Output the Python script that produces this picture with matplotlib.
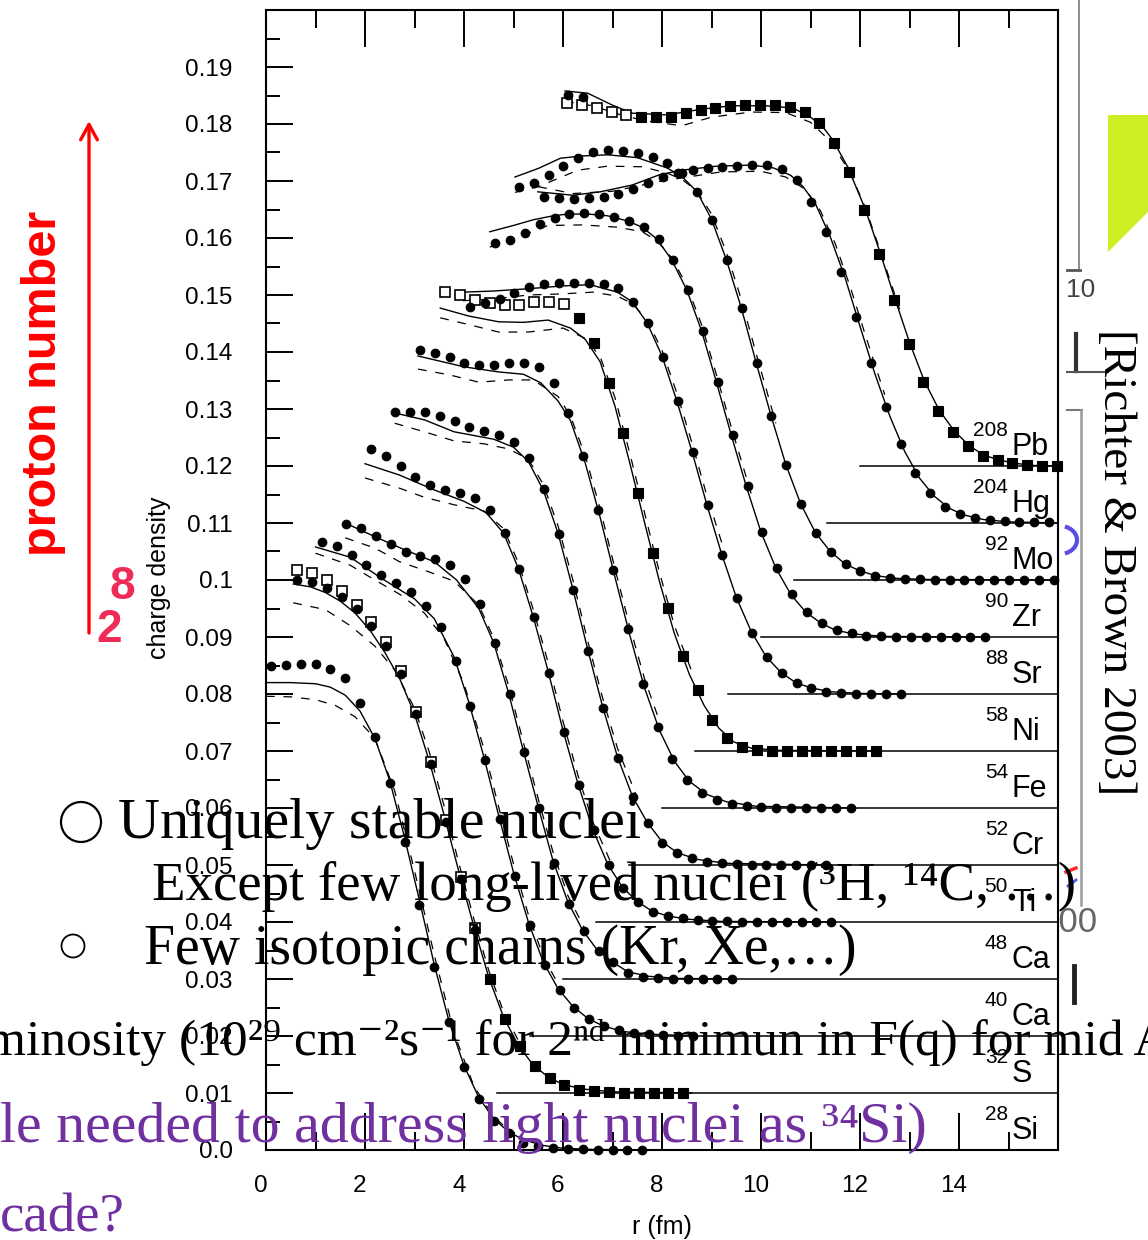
import numpy as np
import matplotlib
matplotlib.use("Agg")
import matplotlib.pyplot as plt
from matplotlib import transforms
from matplotlib.patches import Polygon, Circle, Arc
from matplotlib.lines import Line2D

plt.rcParams["font.family"] = "Liberation Sans"

W, H = 1148, 1240
STEP = 0.3  # fm between measured points
SERIF = ["Liberation Serif", "DejaVu Serif", "DejaVu Sans"]

mass = ["28", "32", "40", "48", "50", "52", "54", "58", "88", "90", "92", "204", "208"]
element = ["Si", "S", "Ca", "Ca", "Ti", "Cr", "Fe", "Ni", "Sr", "Zr", "Mo", "Hg", "Pb"]
shift = [0.00, 0.01, 0.02, 0.03, 0.04, 0.05, 0.06, 0.07, 0.08, 0.09, 0.10, 0.11, 0.12]
base_from = [None, 4.67, 5.33, 6.00, 6.67, 7.33, 8.00, 8.67, 9.33, 10.00, 10.67, 11.33, 12.00]

y_ticks = [0.00, 0.01, 0.02, 0.03, 0.04, 0.05, 0.06, 0.07, 0.08, 0.09,
           0.10, 0.11, 0.12, 0.13, 0.14, 0.15, 0.16, 0.17, 0.18, 0.19]
y_labels = ["0.0", "0.01", "0.02", "0.03", "0.04", "0.05", "0.06", "0.07", "0.08", "0.09",
            "0.1", "0.11", "0.12", "0.13", "0.14", "0.15", "0.16", "0.17", "0.18", "0.19"]
x_ticks = [0, 2, 4, 6, 8, 10, 12, 14, 16]
x_labels = ["0", "2", "4", "6", "8", "10", "12", "14", ""]

# ---- 28Si
si28_r = [0, 0.5, 1.0, 1.3, 1.6, 1.9, 2.2, 2.5, 2.8, 3.1, 3.4, 3.7, 4.0, 4.3, 4.6, 4.9, 5.2, 5.6, 6.0, 6.6, 7.6]
si28_fit = [0.0820, 0.0820, 0.0818, 0.0812, 0.0798, 0.0770, 0.0722, 0.0648, 0.0548, 0.0438, 0.0325,
            0.0225, 0.0148, 0.0092, 0.0055, 0.0032, 0.0018, 0.0008, 0.0003, 0.0001, 0.0]
si28_alt_r = [0, 0.5, 1.0, 1.4, 1.8, 2.2, 2.6, 3.0, 3.4, 3.8, 4.2, 4.6, 5.0]
si28_alt = [0.0796, 0.0795, 0.0790, 0.0780, 0.0760, 0.0722, 0.0630, 0.0490, 0.0342, 0.0205, 0.0112, 0.0058, 0.0028]
si28_exp = [0.0849, 0.0851, 0.0853, 0.0853, 0.0844, 0.0828, 0.0784, 0.0725, 0.0644, 0.0540, 0.0430, 0.0321,
            0.0225, 0.0146, 0.0089, 0.0051, 0.0030, 0.0012, 0.0007, 0.0004, 0.0002, 0.0001, 0, 0, 0, 0]

# ---- 32S
s32_r = [0.55, 0.9, 1.2, 1.5, 1.8, 2.1, 2.4, 2.7, 3.0, 3.3, 3.6, 3.9, 4.2, 4.5, 4.8, 5.1, 5.4, 5.7, 6.0, 6.4, 7.0, 8.6]
s32_fit = [0.0893, 0.0888, 0.0878, 0.0863, 0.0842, 0.0812, 0.0773, 0.0727, 0.0665, 0.0582, 0.0487,
           0.0387, 0.0292, 0.0203, 0.0133, 0.0083, 0.0049, 0.0028, 0.0015, 0.0007, 0.0002, 0.0]
s32_alt_r = [0.55, 1.2, 1.7, 2.2, 2.6, 3.0, 3.3, 3.6, 3.9, 4.2, 4.5, 4.8, 5.2]
s32_alt = [0.0860, 0.0848, 0.0820, 0.0784, 0.0742, 0.0675, 0.0598, 0.0503, 0.0402, 0.0305, 0.0215, 0.0142, 0.0075]
s32_open = [0.0918, 0.0912, 0.0900, 0.0881, 0.0856, 0.0826, 0.0791, 0.0740, 0.0668, 0.0581, 0.0479, 0.0379, 0.0289]
s32_exp = [0.0900, 0.0896, 0.0886, 0.0870, 0.0849, 0.0820, 0.0785, 0.0735, 0.0665, 0.0578, 0.0476, 0.0376, 0.0286]
s32_tail = [0.0200, 0.0130, 0.0082, 0.0048, 0.0027, 0.0014, 0.0006, 0.0003, 0.0001, 0, 0, 0, 0, 0]

# ---- 40Ca
ca40_r = [1.0, 1.7, 2.35, 3.0, 3.4, 3.8, 4.1, 4.4, 4.7, 5.0, 5.3, 5.6, 5.9, 6.2, 6.5, 6.8, 7.2, 7.8, 8.7]
ca40_fit = [0.0858, 0.0840, 0.0802, 0.0767, 0.0732, 0.0665, 0.0585, 0.0490, 0.0387, 0.0287, 0.0200,
            0.0130, 0.0083, 0.0052, 0.0031, 0.0018, 0.0008, 0.0003, 0.0]
ca40_alt_r = [1.0, 1.7, 2.2, 2.7, 3.2, 3.6, 4.0, 4.4, 4.7, 5.0, 5.3, 5.6, 6.0]
ca40_alt = [0.0847, 0.0826, 0.0800, 0.0775, 0.0742, 0.0697, 0.0618, 0.0505, 0.0402, 0.0302, 0.0213, 0.0140, 0.0075]
ca40_exp = [0.0867, 0.0860, 0.0844, 0.0826, 0.0809, 0.0795, 0.0779, 0.0754, 0.0718, 0.0658, 0.0579, 0.0484,
            0.0381, 0.0281, 0.0195, 0.0125, 0.0080, 0.0050, 0.0030, 0.0017, 0.0010, 0.0005, 0.0003, 0.0001, 0, 0]

# ---- 48Ca
ca48_r = [1.6, 2.2, 2.8, 3.4, 3.85, 4.3, 4.6, 4.9, 5.2, 5.5, 5.8, 6.1, 6.4, 6.7, 7.0, 7.3, 7.7, 8.3, 9.5]
ca48_fit = [0.0800, 0.0776, 0.0753, 0.0732, 0.0700, 0.0650, 0.0590, 0.0502, 0.0400, 0.0302, 0.0207,
            0.0135, 0.0085, 0.0050, 0.0030, 0.0013, 0.0005, 0.0001, 0.0]
ca48_alt_r = [1.6, 2.2, 2.7, 3.3, 3.8, 4.3, 4.6, 4.9, 5.2, 5.5, 5.8, 6.1, 6.5]
ca48_alt = [0.0774, 0.0756, 0.0732, 0.0714, 0.0698, 0.0656, 0.0598, 0.0515, 0.0415, 0.0316, 0.0222, 0.0146, 0.0078]
ca48_exp = [0.0798, 0.0791, 0.0777, 0.0763, 0.0749, 0.0742, 0.0737, 0.0726, 0.0702, 0.0658, 0.0589, 0.0500,
            0.0398, 0.0300, 0.0204, 0.0132, 0.0085, 0.0050, 0.0030, 0.0011, 0.0004, 0.0001, 0, 0, 0, 0, 0]

# ---- 50Ti
ti50_r = [2.0, 2.7, 3.4, 4.0, 4.45, 4.8, 5.1, 5.4, 5.7, 6.0, 6.3, 6.6, 6.9, 7.2, 7.5, 7.8, 8.1, 8.5, 9.2, 11.4]
ti50_fit = [0.0804, 0.0784, 0.0758, 0.0738, 0.0718, 0.0682, 0.0620, 0.0535, 0.0440, 0.0336, 0.0243,
            0.0163, 0.0102, 0.0061, 0.0036, 0.0019, 0.0011, 0.0005, 0.0001, 0.0]
ti50_alt_r = [2.0, 2.7, 3.2, 3.8, 4.4, 4.8, 5.1, 5.4, 5.7, 6.0, 6.3, 6.6, 7.0]
ti50_alt = [0.0779, 0.0761, 0.0745, 0.0732, 0.0721, 0.0690, 0.0630, 0.0548, 0.0455, 0.0352, 0.0258, 0.0176, 0.0098]
ti50_exp = [0.0830, 0.0818, 0.0800, 0.0781, 0.0767, 0.0758, 0.0753, 0.0744, 0.0723, 0.0682, 0.0619, 0.0535,
            0.0437, 0.0333, 0.0240, 0.0161, 0.0100, 0.0060, 0.0035, 0.0018, 0.0011, 0.0007, 0.0004, 0.0002,
            0.0001, 0, 0, 0, 0, 0, 0, 0]

# ---- 52Cr
cr52_r = [2.6, 3.2, 3.8, 4.6, 5.0, 5.3, 5.6, 5.9, 6.2, 6.5, 6.8, 7.1, 7.4, 7.7, 8.0, 8.3, 8.7, 9.3, 11.3]
cr52_fit = [0.0793, 0.0781, 0.0760, 0.0747, 0.0733, 0.0708, 0.0658, 0.0582, 0.0484, 0.0378, 0.0278,
            0.0190, 0.0121, 0.0075, 0.0041, 0.0022, 0.0010, 0.0003, 0.0]
cr52_alt_r = [2.6, 3.2, 3.8, 4.4, 4.9, 5.3, 5.6, 5.9, 6.2, 6.5, 6.8, 7.1, 7.5]
cr52_alt = [0.0775, 0.0760, 0.0744, 0.0739, 0.0730, 0.0712, 0.0668, 0.0595, 0.0500, 0.0393, 0.0293, 0.0205, 0.0118]
cr52_exp = [0.0795, 0.0795, 0.0795, 0.0788, 0.0779, 0.0768, 0.0761, 0.0754, 0.0742, 0.0714, 0.0660, 0.0581,
            0.0482, 0.0375, 0.0275, 0.0188, 0.0119, 0.0074, 0.0039, 0.0021, 0.0012, 0.0006, 0.0003, 0.0001,
            0, 0, 0, 0, 0, 0]

# ---- 54Fe
fe54_r = [3.07, 4.0, 4.7, 5.2, 5.55, 5.9, 6.15, 6.45, 6.75, 7.05, 7.35, 7.65, 7.95, 8.25, 8.55, 8.9, 9.3, 9.9, 11.9]
fe54_fit = [0.0793, 0.0774, 0.0765, 0.0761, 0.0746, 0.0714, 0.0680, 0.0605, 0.0510, 0.0405, 0.0303,
            0.0210, 0.0136, 0.0082, 0.0047, 0.0024, 0.0011, 0.0003, 0.0]
fe54_alt_r = [3.07, 3.7, 4.3, 4.9, 5.4, 5.9, 6.15, 6.45, 6.75, 7.05, 7.35, 7.65, 8.0]
fe54_alt = [0.0770, 0.0760, 0.0747, 0.0751, 0.0751, 0.0722, 0.0688, 0.0618, 0.0525, 0.0420, 0.0318, 0.0226, 0.0140]
fe54_exp = [0.0804, 0.0798, 0.0791, 0.0781, 0.0777, 0.0777, 0.0781, 0.0781, 0.0774, 0.0746, 0.0693, 0.0618,
            0.0523, 0.0418, 0.0314, 0.0218, 0.0142, 0.0086, 0.0049, 0.0027, 0.0014, 0.0007, 0.0003, 0.0001,
            0, 0, 0, 0, 0, 0]

# ---- 58Ni
ni58_r = [3.52, 4.1, 4.7, 5.2, 5.7, 6.15, 6.45, 6.75, 7.05, 7.35, 7.65, 7.95, 8.25, 8.55, 8.85, 9.15, 9.45,
          9.8, 10.4, 12.4]
ni58_fit = [0.0777, 0.0763, 0.0753, 0.0752, 0.0756, 0.0742, 0.0722, 0.0683, 0.0605, 0.0505, 0.0400,
            0.0297, 0.0206, 0.0135, 0.0080, 0.0040, 0.0016, 0.0005, 0.0001, 0.0]
ni58_alt_r = [3.52, 4.1, 4.7, 5.3, 6.0, 6.45, 6.75, 7.05, 7.35, 7.65, 7.95, 8.25, 8.6]
ni58_alt = [0.0760, 0.0748, 0.0735, 0.0735, 0.0742, 0.0724, 0.0692, 0.0620, 0.0522, 0.0417, 0.0313, 0.0220, 0.0140]
ni58_open = [0.0805, 0.0800, 0.0791, 0.0786, 0.0782, 0.0782, 0.0788, 0.0788, 0.0784]
ni58_exp = [0.0760, 0.0716, 0.0646, 0.0558, 0.0453, 0.0347, 0.0251, 0.0167, 0.0107, 0.0054, 0.0023,
            0.0007, 0.0002, 0, 0, 0, 0, 0, 0, 0, 0]

# ---- 88Sr
sr88_r = [3.98, 4.6, 5.3, 6.0, 6.55, 7.1, 7.4, 7.7, 8.0, 8.3, 8.6, 8.9, 9.2, 9.5, 9.8, 10.1, 10.4, 10.7,
          11.0, 11.4, 12.0, 12.8]
sr88_fit = [0.0705, 0.0707, 0.0711, 0.0716, 0.0718, 0.0705, 0.0688, 0.0651, 0.0593, 0.0514, 0.0427,
            0.0334, 0.0247, 0.0170, 0.0110, 0.0066, 0.0038, 0.0020, 0.0011, 0.0004, 0.0001, 0.0]
sr88_alt_r = [3.98, 4.6, 5.3, 6.0, 6.6, 7.1, 7.4, 7.7, 8.0, 8.3, 8.6, 8.9, 9.3]
sr88_alt = [0.0690, 0.0693, 0.0700, 0.0702, 0.0705, 0.0698, 0.0685, 0.0656, 0.0603, 0.0528, 0.0442, 0.0350, 0.0240]
sr88_exp = [0.0679, 0.0686, 0.0693, 0.0704, 0.0714, 0.0719, 0.0721, 0.0721, 0.0721, 0.0719, 0.0712, 0.0688,
            0.0651, 0.0591, 0.0514, 0.0425, 0.0332, 0.0244, 0.0168, 0.0107, 0.0065, 0.0037, 0.0019, 0.0011,
            0.0004, 0.0002, 0, 0, 0, 0]

# ---- 90Zr
zr90_r = [4.52, 5.0, 5.4, 5.8, 6.1, 6.5, 6.9, 7.3, 7.6, 7.9, 8.2, 8.5, 8.8, 9.1, 9.4, 9.7, 10.0, 10.3, 10.6,
          10.9, 11.2, 11.5, 11.9, 12.5, 14.5]
zr90_fit = [0.0711, 0.0722, 0.0732, 0.0739, 0.0742, 0.0742, 0.0739, 0.0730, 0.0719, 0.0698, 0.0661,
            0.0609, 0.0537, 0.0447, 0.0354, 0.0265, 0.0184, 0.0121, 0.0075, 0.0044, 0.0025, 0.0012,
            0.0005, 0.0001, 0.0]
zr90_alt_r = [4.52, 5.1, 5.7, 6.4, 7.1, 7.6, 7.9, 8.2, 8.5, 8.8, 9.1, 9.4, 9.8]
zr90_alt = [0.0684, 0.0702, 0.0722, 0.0723, 0.0719, 0.0711, 0.0695, 0.0665, 0.0617, 0.0548, 0.0460, 0.0368, 0.0252]
zr90_exp = [0.0691, 0.0696, 0.0709, 0.0725, 0.0735, 0.0742, 0.0744, 0.0742, 0.0737, 0.0730, 0.0719, 0.0698,
            0.0661, 0.0609, 0.0537, 0.0447, 0.0354, 0.0265, 0.0184, 0.0121, 0.0075, 0.0044, 0.0025, 0.0012,
            0.0007, 0.0002, 0.0001, 0, 0, 0, 0, 0, 0, 0]

# ---- 92Mo
mo92_r = [5.03, 5.5, 5.95, 6.4, 6.9, 7.5, 8.1, 8.4, 8.7, 9.0, 9.3, 9.6, 9.9, 10.2, 10.5, 10.8, 11.1, 11.4,
          11.7, 12.0, 12.3, 12.7, 13.3, 16.0]
mo92_fit = [0.0707, 0.0722, 0.0740, 0.0744, 0.0746, 0.0741, 0.0723, 0.0708, 0.0682, 0.0633, 0.0562,
            0.0478, 0.0382, 0.0289, 0.0203, 0.0134, 0.0083, 0.0050, 0.0028, 0.0016, 0.0008, 0.0003,
            0.0001, 0.0]
mo92_alt_r = [5.03, 5.5, 6.3, 6.9, 7.6, 8.1, 8.4, 8.7, 9.0, 9.3, 9.6, 9.9, 10.3]
mo92_alt = [0.0680, 0.0690, 0.0719, 0.0726, 0.0725, 0.0714, 0.0703, 0.0683, 0.0642, 0.0575, 0.0493, 0.0398, 0.0275]
mo92_exp = [0.0689, 0.0696, 0.0711, 0.0726, 0.0740, 0.0751, 0.0754, 0.0753, 0.0749, 0.0742, 0.0732, 0.0714,
            0.0681, 0.0632, 0.0561, 0.0477, 0.0381, 0.0288, 0.0202, 0.0133, 0.0082, 0.0049, 0.0028, 0.0016,
            0.0007, 0.0004, 0.0002, 0.0001, 0, 0, 0, 0, 0, 0, 0, 0, 0]

# ---- 204Hg
hg204_r = [5.49, 6.2, 6.75, 7.4, 7.95, 8.4, 9.1, 9.8, 10.25, 10.6, 10.85, 11.1, 11.4, 11.7, 12.0, 12.3,
           12.6, 12.9, 13.2, 13.5, 13.8, 14.1, 14.5, 15.0, 16.0]
hg204_fit = [0.0581, 0.0575, 0.0581, 0.0593, 0.0611, 0.0619, 0.0626, 0.0628, 0.0623, 0.0610, 0.0590,
             0.0560, 0.0502, 0.0430, 0.0345, 0.0262, 0.0188, 0.0126, 0.0079, 0.0047, 0.0026, 0.0014,
             0.0006, 0.0002, 0.0]
hg204_alt_r = [5.5, 6.2, 7.0, 8.0, 9.2, 10.0, 10.5, 10.9, 11.2, 11.5, 11.8, 12.1, 12.5]
hg204_alt = [0.0590, 0.0578, 0.0582, 0.0600, 0.0616, 0.0617, 0.0607, 0.0585, 0.0548, 0.0490, 0.0415, 0.0332, 0.0225]
hg204_exp = [0.0572, 0.0570, 0.0568, 0.0570, 0.0572, 0.0577, 0.0586, 0.0596, 0.0607, 0.0614, 0.0619, 0.0623,
             0.0625, 0.0626, 0.0628, 0.0628, 0.0621, 0.0602, 0.0563, 0.0511, 0.0440, 0.0361, 0.0281, 0.0204,
             0.0139, 0.0088, 0.0053, 0.0028, 0.0016, 0.0009, 0.0005, 0.0003, 0.0002, 0.0001, 0.0001]

# ---- 208Pb
pb208_r = [6.04, 6.5, 7.0, 7.4, 8.1, 8.8, 9.4, 10.1, 10.65, 11.0, 11.25, 11.45, 11.75, 12.1, 12.4, 12.7,
           13.0, 13.3, 13.6, 13.9, 14.2, 14.5, 14.8, 15.1, 15.5, 16.0]
pb208_fit = [0.0658, 0.0654, 0.0633, 0.0619, 0.0616, 0.0626, 0.0632, 0.0632, 0.0628, 0.0612, 0.0595,
             0.0572, 0.0525, 0.0452, 0.0376, 0.0295, 0.0217, 0.0149, 0.0098, 0.0062, 0.0036, 0.0019,
             0.0011, 0.0005, 0.0001, 0.0]
pb208_alt_r = [6.04, 6.6, 7.2, 7.7, 8.4, 9.0, 9.8, 10.5, 11.0, 11.4, 11.8, 12.1, 12.4, 12.8]
pb208_alt = [0.0640, 0.0632, 0.0615, 0.0605, 0.0597, 0.0612, 0.0621, 0.0620, 0.0603, 0.0570, 0.0515,
             0.0455, 0.0380, 0.0275]
pb208_open = [0.0637, 0.0633, 0.0628, 0.0621, 0.0616]
pb208_dots = [0.0651, 0.0647]
pb208_exp = [0.0612, 0.0612, 0.0612, 0.0619, 0.0625, 0.0628, 0.0632, 0.0633, 0.0633, 0.0633, 0.0630, 0.0621,
             0.0602, 0.0567, 0.0516, 0.0449, 0.0372, 0.0291, 0.0214, 0.0147, 0.0096, 0.0060, 0.0035, 0.0018,
             0.0011, 0.0005, 0.0002, 0.0, 0.0]

fit_r = [si28_r, s32_r, ca40_r, ca48_r, ti50_r, cr52_r, fe54_r, ni58_r, sr88_r, zr90_r, mo92_r, hg204_r, pb208_r]
fit_rho = [si28_fit, s32_fit, ca40_fit, ca48_fit, ti50_fit, cr52_fit, fe54_fit, ni58_fit, sr88_fit, zr90_fit,
           mo92_fit, hg204_fit, pb208_fit]
alt_r = [si28_alt_r, s32_alt_r, ca40_alt_r, ca48_alt_r, ti50_alt_r, cr52_alt_r, fe54_alt_r, ni58_alt_r,
         sr88_alt_r, zr90_alt_r, mo92_alt_r, hg204_alt_r, pb208_alt_r]
alt_rho = [si28_alt, s32_alt, ca40_alt, ca48_alt, ti50_alt, cr52_alt, fe54_alt, ni58_alt, sr88_alt, zr90_alt,
           mo92_alt, hg204_alt, pb208_alt]
# (first radius, values, marker kind) for each nucleus
points = [
    [(0.10, si28_exp, "o")],
    [(0.63, s32_open, "os"), (0.63, s32_exp, "o"), (4.53, s32_tail, "s")],
    [(1.13, ca40_exp, "o")],
    [(1.62, ca48_exp, "o")],
    [(2.12, ti50_exp, "o")],
    [(2.61, cr52_exp, "o")],
    [(3.11, fe54_exp, "o")],
    [(3.62, ni58_open, "os"), (6.32, ni58_exp, "s")],
    [(4.12, sr88_exp, "o")],
    [(4.63, zr90_exp, "o")],
    [(5.11, mo92_exp, "o")],
    [(5.62, hg204_exp, "o")],
    [(6.08, pb208_open, "os"), (6.10, pb208_dots, "o"), (7.58, pb208_exp, "s")],
]

fig = plt.figure(figsize=(W / 100, H / 100), dpi=100)
ax = fig.add_axes([266 / W, 90 / H, 792 / W, 1140 / H])

line_kw = dict(color="black", lw=1.0)
dash_kw = dict(color="black", lw=0.9, ls=(0, (7, 7)))
mk = {
    "o": dict(marker="o", ms=6.2, mfc="black", mec="black", mew=0.8),
    "s": dict(marker="s", ms=6.5, mfc="black", mec="black", mew=0.8),
    "os": dict(marker="s", ms=7.0, mfc="white", mec="black", mew=1.2),
}

for i in range(len(mass)):
    off = shift[i]
    ax.plot(fit_r[i], np.asarray(fit_rho[i]) + off, zorder=2, **line_kw)
    ax.plot(alt_r[i], np.asarray(alt_rho[i]) + off, zorder=2, **dash_kw)
    if base_from[i] is not None:
        ax.plot([base_from[i], 16], [off, off], color="black", lw=1.1, zorder=1)
    for r0, vals, kind in points[i]:
        r = r0 + STEP * np.arange(len(vals))
        ax.plot(r, np.asarray(vals) + off, ls="none", zorder=3, clip_on=False, **mk[kind])
    ax.text(14.99, off + 0.0052, mass[i], ha="right", va="baseline", fontsize=15)
    ax.text(15.07, off + 0.0019, element[i], ha="left", va="baseline", fontsize=22)

ax.set_xlim(0, 16)
ax.set_ylim(0, 0.2)
ax.set_xticks(x_ticks)
ax.set_xticklabels(x_labels)
ax.set_xticks([1, 3, 5, 7, 9, 11, 13, 15], minor=True)
ax.set_yticks(y_ticks)
ax.set_yticklabels(y_labels)
ax.set_yticks([v + 0.005 for v in y_ticks], minor=True)
ax.tick_params(which="both", direction="in", top=True, right=False, width=1.4, labelsize=17.5)
ax.tick_params(axis="x", which="major", length=26.6, pad=18)
ax.tick_params(axis="x", which="minor", length=13)
ax.tick_params(axis="y", which="major", length=19.4, pad=24)
ax.tick_params(axis="y", which="minor", length=10)
for sp in ax.spines.values():
    sp.set_linewidth(1.5)
shift_left = transforms.ScaledTranslation(-5 / 100, 0, fig.dpi_scale_trans)
for lab in ax.get_xticklabels():
    lab.set_transform(lab.get_transform() + shift_left)

ax.set_xlabel("r (fm)", fontsize=18)
ax.xaxis.set_label_coords(0.5, -0.057)
ax.set_ylabel("charge density", fontsize=18)
ax.yaxis.set_label_coords(-0.12, 0.502)


def fx(x):
    return x / W


def fy(y):
    return 1 - y / H


# red arrow with its caption
ax.annotate("", xy=(89, H - 121), xytext=(89, H - 633), xycoords="figure pixels",
            textcoords="figure pixels",
            arrowprops=dict(arrowstyle="->,head_length=0.55,head_width=0.3", color="red",
                            lw=2.4, mutation_scale=20, shrinkA=0, shrinkB=0))
fig.text(fx(44), fy(383), "proton number", rotation=90, color="red", fontsize=35,
         fontweight="bold", ha="center", va="center")
fig.text(fx(122), fy(587), "8", color="#ef2b57", fontsize=33, fontweight="bold", ha="center", va="center")
fig.text(fx(109), fy(630), "2", color="#ef2b57", fontsize=33, fontweight="bold", ha="center", va="center")

# green corner block and the grey figure pieces on the right
fig.add_artist(Polygon([(fx(1108), fy(115)), (fx(1148), fy(115)), (fx(1148), fy(212)), (fx(1108), fy(252))],
                       closed=True, transform=fig.transFigure, color="#ccef24", lw=0))
for (x0, y0, x1, y1, c, w) in [(1079, 0, 1079, 268, "#8c8c8c", 1.4), (1067, 270, 1080, 270, "#555555", 2.0),
                               (1076, 334, 1076, 371, "#333333", 3.0), (1067, 372, 1108, 372, "#555555", 1.5),
                               (1067, 410, 1082, 410, "#777777", 1.5), (1081, 410, 1081, 905, "#9a9a9a", 1.8),
                               (1074, 966, 1074, 1002, "#222222", 3.5), (1066, 872, 1076, 868, "#ff2a2a", 2.5),
                               (1068, 886, 1076, 880, "#4a5cff", 2.0)]:
    fig.add_artist(Line2D([fx(x0), fx(x1)], [fy(y0), fy(y1)], transform=fig.transFigure, color=c, lw=w))
fig.text(fx(1066), fy(290), "10", fontsize=19, color="#444444", ha="left", va="center")
fig.text(fx(1040), fy(922), "300", fontsize=25, color="#666666", ha="left", va="center", zorder=-1)
fig.add_artist(Arc((1060 / 100, (H - 540) / 100), 0.34, 0.28, theta1=-70, theta2=70,
                   transform=fig.dpi_scale_trans, color="#5a4fe0", lw=3))
fig.text(fx(1115), fy(562), "[Richter & Brown 2003]", rotation=-90, family="Liberation Serif",
         fontsize=34, ha="center", va="center")

# slide text laid over the chart
renderer = fig.canvas.get_renderer()


def slide_line(s, x0, x1, y, color="black", size=42):
    t = fig.text(fx(x0), fy(y), s, fontsize=size, family=SERIF, color=color,
                 ha="left", va="baseline")
    bb = t.get_window_extent(renderer)
    t.set_fontsize(size * (x1 - x0) / bb.width)
    return t


slide_line("Uniquely stable nuclei", 118, 642, 838)
slide_line("Except few long-lived nuclei (³H, ¹⁴C, …)", 152, 1077, 900)
slide_line("Few isotopic chains (Kr, Xe,…)", 144, 858, 964)
slide_line("minosity (10²⁹ cm⁻²s⁻¹ for 2ⁿᵈ minimun in F(q) for mid A", -14, 1170, 1055)
slide_line("le needed to address light nuclei as ³⁴Si)", 0, 928, 1142, color="#7030a0")
slide_line("cade?", 0, 125, 1232, color="#7030a0")
fig.add_artist(Circle((81 / 100, (H - 822) / 100), 0.20, transform=fig.dpi_scale_trans,
                      fill=False, ec="black", lw=1.6))
fig.add_artist(Circle((73 / 100, (H - 946) / 100), 0.115, transform=fig.dpi_scale_trans,
                      fill=False, ec="black", lw=1.3))

fig.savefig("out.png", dpi=100)
